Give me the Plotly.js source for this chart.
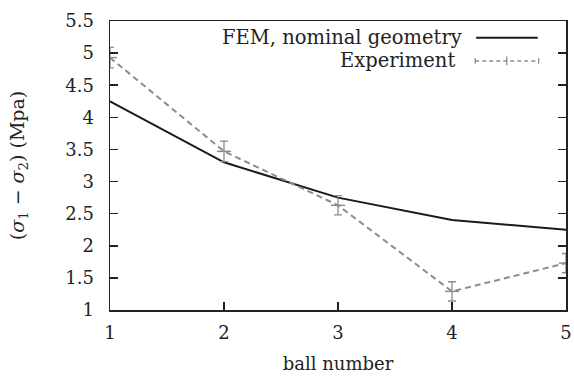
<!DOCTYPE html>
<html>
<head>
<meta charset="utf-8">
<script src="https://cdn.plot.ly/plotly-3.0.1.min.js"></script>
<style>html,body{margin:0;padding:0;background:#fff;}#chart{width:574px;height:376px;}</style>
</head>
<body>
<div id="chart"></div>
<script>
var ballNumbers = [1, 2, 3, 4, 5];
var femValues = [4.25, 3.3, 2.75, 2.4, 2.25];
var expValues = [4.93, 3.47, 2.63, 1.29, 1.73];
var expErrors = [0.16, 0.16, 0.15, 0.15, 0.15];
var yTicks = [1, 1.5, 2, 2.5, 3, 3.5, 4, 4.5, 5, 5.5];
var xTicks = [1, 2, 3, 4, 5];

var serif = '"DejaVu Serif", serif';
var fs = 18;

var traces = [
  {
    x: ballNumbers, y: femValues, type: 'scatter', mode: 'lines',
    line: {color: '#1a1a1a', width: 2}, showlegend: false, hoverinfo: 'none'
  },
  {
    x: ballNumbers, y: expValues, type: 'scatter', mode: 'lines+markers',
    line: {color: '#8c8c8c', width: 2, dash: '6px,4px'},
    marker: {symbol: 'line-ew', size: 10, line: {color: '#8c8c8c', width: 1.5}},
    error_y: {type: 'data', array: expErrors, visible: true, color: '#8c8c8c', thickness: 1.3, width: 4},
    showlegend: false, hoverinfo: 'none'
  }
];

var layout = {
  width: 574, height: 376,
  margin: {l: 110, r: 8, t: 21, b: 66},
  paper_bgcolor: '#fff', plot_bgcolor: '#fff',
  font: {family: serif, size: fs, color: '#222'},
  xaxis: {
    range: [1, 5], tickvals: xTicks, ticktext: xTicks.map(String),
    ticks: 'inside', ticklen: 8, tickwidth: 1.5, tickcolor: '#222',
    showline: true, linecolor: '#222', linewidth: 1.5, mirror: true,
    showgrid: false, zeroline: false, ticklabelstandoff: 6,
    tickfont: {family: serif, size: fs, color: '#222'},
    title: {text: 'ball number', font: {family: serif, size: fs, color: '#222'}, standoff: 15}
  },
  yaxis: {
    range: [1, 5.5], tickvals: yTicks, ticktext: yTicks.map(String),
    ticks: 'inside', ticklen: 8, tickwidth: 1.5, tickcolor: '#222',
    showline: true, linecolor: '#222', linewidth: 1.5, mirror: 'ticks',
    showgrid: false, zeroline: false, ticklabelstandoff: 11,
    tickfont: {family: serif, size: fs, color: '#222'},
    title: {text: '(<i>σ</i><sub>1</sub> − <i>σ</i><sub>2</sub>) (Mpa)', font: {family: serif, size: 19, color: '#222'}, standoff: 35}
  },
  annotations: [
    {xref: 'paper', yref: 'paper', x: 0.777, y: 0.942, xanchor: 'right', yanchor: 'middle',
     text: 'FEM, nominal geometry', showarrow: false, font: {family: serif, size: 19.5, color: '#222'}},
    {xref: 'paper', yref: 'paper', x: 0.76, y: 0.862, xanchor: 'right', yanchor: 'middle',
     text: 'Experiment', showarrow: false, font: {family: serif, size: 19.5, color: '#222'}}
  ],
  shapes: [
    {type: 'line', xref: 'paper', yref: 'paper', x0: 0.803, x1: 0.938, y0: 0.942, y1: 0.942,
     line: {color: '#1a1a1a', width: 2}},
    {type: 'line', xref: 'paper', yref: 'paper', x0: 0.801, x1: 0.94, y0: 0.862, y1: 0.862,
     line: {color: '#8c8c8c', width: 1.5, dash: '4px,3px'}},
    {type: 'line', xref: 'paper', yref: 'paper', x0: 0.870, x1: 0.870, y0: 0.847, y1: 0.877,
     line: {color: '#8c8c8c', width: 1.3}},
    {type: 'line', xref: 'paper', yref: 'paper', x0: 0.801, x1: 0.801, y0: 0.852, y1: 0.872,
     line: {color: '#8c8c8c', width: 1.3}},
    {type: 'line', xref: 'paper', yref: 'paper', x0: 0.94, x1: 0.94, y0: 0.852, y1: 0.872,
     line: {color: '#8c8c8c', width: 1.3}}
  ]
};

Plotly.newPlot('chart', traces, layout, {displayModeBar: false, staticPlot: true});
</script>
</body>
</html>
